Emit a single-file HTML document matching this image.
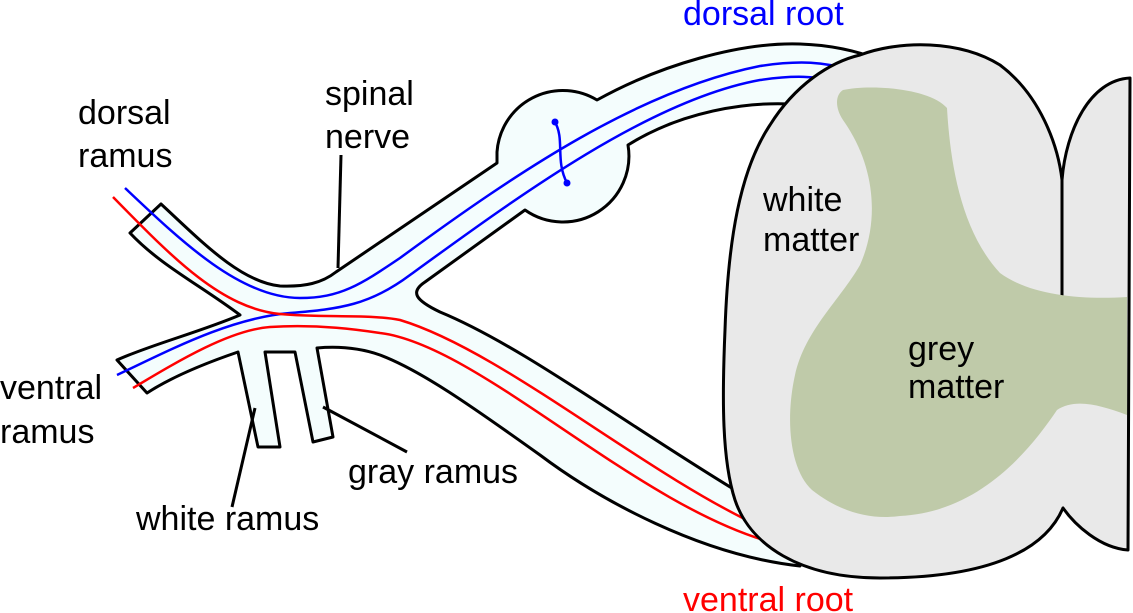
<!DOCTYPE html>
<html><head><meta charset="utf-8"><style>
html,body{margin:0;padding:0;background:#fff;width:1133px;height:613px;overflow:hidden}
svg{display:block}
text{font-family:"Liberation Sans",sans-serif;font-size:34px;fill:#000}
</style></head><body>
<svg width="1133" height="613" viewBox="0 0 1133 613" xmlns="http://www.w3.org/2000/svg">
<!-- nerve body -->
<path fill="#f4fdfd" stroke="#000" stroke-width="3" stroke-linejoin="round" d="
M161,204 C200,240 240,282 280,286 C305,287 322,283 336,272 L497,163
L497,152 A66,66 0 0 1 597,100 C660,65 740,42 800,44 C830,45 855,50 880,60
L830,110 C790,98 700,100 628,145
A66,66 0 0 1 525,210 L425,282 C410,292 415,300 440,312
C520,345 620,420 735,490 C765,508 790,525 805,540 L800,566
C700,555 600,500 540,455 C470,405 420,370 380,355 C360,348 340,346 317,348
L333,437 L313,442 L295,352 L265,352 L280,447 L258,447 L238,352
C200,365 170,378 147,393 L117,360 C150,345 200,332 240,315
C200,285 160,265 130,233 Z"/>
<!-- fibers -->
<g fill="none" stroke-width="2.5">
<path stroke="#00f" d="M125,188 C180,240 240,298 300,298 C340,298 360,285 400,258 C520,170 640,90 760,66 C800,60 825,62 850,70"/>
<path stroke="#00f" d="M117,375 C170,350 230,318 290,313 C340,309 370,305 410,275 C520,195 650,100 760,80 C795,75 815,76 840,82"/>
<path stroke="#f00" d="M113,197 C170,255 220,308 280,314 C320,318 370,314 400,320 C500,350 640,470 757,525 C770,530 780,533 790,535"/>
<path stroke="#f00" d="M133,388 C180,360 230,330 270,327 C320,324 360,330 380,333 C480,345 640,510 778,544 C790,546 795,546 800,546"/>
<path stroke="#00f" d="M555,122 C565,140 555,160 567,183"/>
</g>
<circle cx="555" cy="122" r="3.5" fill="#00f"/>
<circle cx="567" cy="183" r="3.5" fill="#00f"/>
<!-- cord -->
<path fill="#e9e9e9" stroke="#000" stroke-width="3" stroke-linejoin="round" d="
M860,55 C900,40 960,40 1000,65 C1040,95 1058,145 1062,180
C1066,130 1090,80 1130,78 L1128,550 C1100,548 1075,525 1063,508
C1045,550 990,578 880,578 C800,578 750,545 735,500
C722,460 722,400 725,330 C728,240 740,170 770,125 C795,85 830,62 860,55 Z"/>
<path fill="none" stroke="#000" stroke-width="3" d="M1062,180 L1062,296"/>
<path fill="#bfcaa9" d="M843,90 C870,84 930,88 947,108 C950,160 960,230 1000,273 C1030,295 1080,300 1127,297 L1127,415 C1100,405 1075,398 1057,410 C1030,450 980,512 900,516 C870,520 840,512 812,490 C790,470 785,420 795,375 C805,330 840,300 860,265 C880,220 875,165 843,120 C835,108 835,95 843,90 Z"/>
<!-- leader lines -->
<g stroke="#000" stroke-width="3" fill="none">
<path d="M341,155 L338,268"/>
<path d="M255,408 L232,507"/>
<path d="M323,407 L407,452"/>
</g>
<!-- labels -->
<text x="683" y="25" style="fill:#00f">dorsal root</text>
<text x="325" y="105">spinal</text>
<text x="325" y="148">nerve</text>
<text x="78" y="124">dorsal</text>
<text x="78" y="167">ramus</text>
<text x="763" y="211">white</text>
<text x="763" y="251">matter</text>
<text x="908" y="360">grey</text>
<text x="908" y="398">matter</text>
<text x="0" y="399">ventral</text>
<text x="0" y="443">ramus</text>
<text x="348" y="483">gray ramus</text>
<text x="136" y="530">white ramus</text>
<text x="683" y="611" style="fill:#f00">ventral root</text>
</svg>
</body></html>
